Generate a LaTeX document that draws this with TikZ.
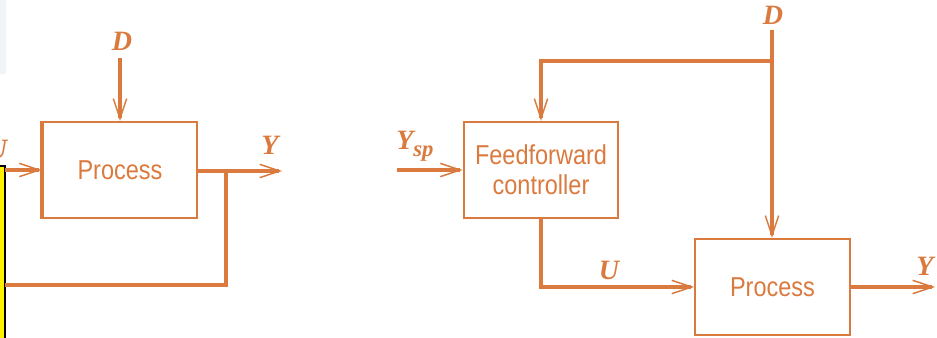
\documentclass[tikz,border=0pt]{standalone}
\usepackage{fontspec}
\setmainfont{Liberation Sans}
\newfontfamily\blockfont[FakeStretch=0.86]{Liberation Sans}
\newfontfamily\varfont{Liberation Serif}
\usetikzlibrary{arrows.meta}
\definecolor{ora}{RGB}{218,122,62}
\definecolor{faint}{RGB}{241,244,246}
\tikzset{
  block/.style={draw=ora, line width=1.6pt, minimum width=116pt, minimum height=72pt,
    inner sep=0pt, align=center, text=ora, font=\blockfont\fontsize{20.5}{22.5}\selectfont},
  var/.style={text=ora, inner sep=0pt, font=\varfont\itshape\bfseries\fontsize{21}{22}\selectfont},
  conn/.style={draw=ora, line width=2.5pt},
  arr/.style={conn, -{Straight Barb[length=15pt,width=10pt,line width=1.1pt]}},
}
\begin{document}
\begin{tikzpicture}[x=0.75pt,y=-0.75pt]
\useasboundingbox (0,0) rectangle (937,338);
\clip (0,0) rectangle (937,338);
% faint patch and yellow box at left edge
\fill[faint] (-2,0) rectangle (6,74);
\draw[fill=yellow, draw=black, line width=1.2pt] (-4,166) rectangle (5,342);

% ---------- left diagram ----------
\node[block] (p1) at (120,170) {Process};
\node[var] (d1) at (122,41) {D};
\node[var] (y1) at (270,145) {Y};
\node[var] (u1) at (-3,149) {U};
\coordinate (d1s) at (120,58);
\coordinate (in1) at (5,170);
\coordinate (out1) at (282,171);
\coordinate (j1) at (226,171);
\coordinate (fb1) at (226,285);
\coordinate (fb2) at (5,285);
\draw[ora, line width=2.5pt] (p1.north west) -- (p1.south west);
\draw[arr] (d1s) -- (p1.north);
\draw[arr] (in1) -- (p1.west);
\draw[arr] (p1.east |- out1) -- (out1);
\draw[conn] (j1) -- (fb1) -- (fb2);

% ---------- right diagram ----------
\node[block] (ff) at (541,170) {Feedforward\\controller};
\node[block] (p2) at (772.5,287) {Process};
\node[var] (d2) at (773,15) {D};
\node[var, anchor=base west] (ysp) at (396,150) {Y\raisebox{-5pt}{\fontsize{17}{17}\selectfont sp}};
\node[var] (u2) at (609,270) {U};
\node[var] (y2) at (925,266) {Y};
\coordinate (d2s) at (772,30);
\coordinate (br) at (772,61);
\coordinate (brl) at (541,61);
\coordinate (ysps) at (397,170);
\coordinate (uc) at (541,287);
\coordinate (out2) at (935,287);
\draw[arr] (d2s) -- (p2.north -| d2s);
\draw[arr] (br) -- (brl) -- (ff.north);
\draw[arr] (ysps) -- (ff.west);
\draw[arr] (ff.south) -- (uc) -- (p2.west);
\draw[arr] (p2.east) -- (out2);
\end{tikzpicture}
\end{document}
